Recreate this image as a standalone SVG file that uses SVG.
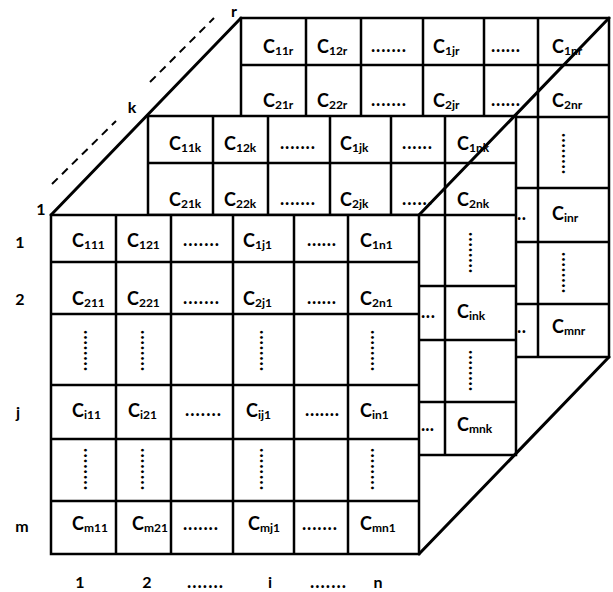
<svg xmlns="http://www.w3.org/2000/svg" xmlns:xlink="http://www.w3.org/1999/xlink" width="613" height="592" viewBox="0 0 613 592">
<style>
.ln{stroke:#000;stroke-width:2.5;fill:none}
.bg{fill:#fff;stroke:none}
.dg{stroke:#000;stroke-width:3;fill:none;stroke-linecap:round}
.ds{stroke:#000;stroke-width:2;fill:none;stroke-dasharray:8 6}
text{font-family:Lato,"Liberation Sans",sans-serif;font-weight:bold;fill:#000}
.c{font-size:18px}
.s{font-size:12px}
.d{font-size:18px}
.lbl{font-size:16px;text-anchor:middle}
</style>
<defs>
<g id="grid">
<rect class="bg" x="0" y="0" width="368" height="339"/>
<path class="ln" d="M0,0H368V339H0Z M65,0V339 M120,0V339 M182,0V339 M243,0V339 M297,0V339 M0,47H368 M0,99H368 M0,170H368 M0,224H368 M0,286H368"/>
</g>
</defs>

<g id="layer-r">
<use xlink:href="#grid" href="#grid" transform="translate(241,18)"/>
<text class="c" x="263" y="53">C<tspan class="s" dy="1.5">11r</tspan></text>
<text class="c" x="317" y="53">C<tspan class="s" dy="1.5">12r</tspan></text>
<text class="d" x="371" y="52" textLength="35" lengthAdjust="spacing">.......</text>
<text class="c" x="433" y="53">C<tspan class="s" dy="1.5">1jr</tspan></text>
<text class="d" x="491" y="52" textLength="29" lengthAdjust="spacing">......</text>
<text class="c" x="552" y="53">C<tspan class="s" dy="1.5">1nr</tspan></text>
<text class="c" x="263" y="107">C<tspan class="s" dy="1.5">21r</tspan></text>
<text class="c" x="317" y="107">C<tspan class="s" dy="1.5">22r</tspan></text>
<text class="d" x="371" y="106" textLength="35" lengthAdjust="spacing">.......</text>
<text class="c" x="433" y="107">C<tspan class="s" dy="1.5">2jr</tspan></text>
<text class="d" x="491" y="106" textLength="29" lengthAdjust="spacing">......</text>
<text class="c" x="552" y="107">C<tspan class="s" dy="1.5">2nr</tspan></text>
<text class="d" transform="translate(562,133) rotate(90)" x="0" y="0" textLength="41" lengthAdjust="spacing">........</text>
<text class="c" x="552" y="220">C<tspan class="s" dy="1.5">inr</tspan></text>
<text class="d" transform="translate(562,252) rotate(90)" x="0" y="0" textLength="41" lengthAdjust="spacing">........</text>
<text class="c" x="552" y="333">C<tspan class="s" dy="1.5">mnr</tspan></text>
<text class="d" x="517" y="220" textLength="9" lengthAdjust="spacing">..</text>
<text class="d" x="517" y="333" textLength="9" lengthAdjust="spacing">..</text>
</g>

<g id="layer-k">
<use xlink:href="#grid" href="#grid" transform="translate(148,116)"/>
<text class="c" x="169" y="150">C<tspan class="s" dy="1.5">11k</tspan></text>
<text class="c" x="224" y="150">C<tspan class="s" dy="1.5">12k</tspan></text>
<text class="d" x="280" y="149" textLength="35" lengthAdjust="spacing">.......</text>
<text class="c" x="340" y="150">C<tspan class="s" dy="1.5">1jk</tspan></text>
<text class="d" x="402" y="149" textLength="30" lengthAdjust="spacing">......</text>
<text class="c" x="457" y="150">C<tspan class="s" dy="1.5">1nk</tspan></text>
<text class="c" x="169" y="206">C<tspan class="s" dy="1.5">21k</tspan></text>
<text class="c" x="224" y="206">C<tspan class="s" dy="1.5">22k</tspan></text>
<text class="d" x="280" y="205" textLength="35" lengthAdjust="spacing">.......</text>
<text class="c" x="340" y="206">C<tspan class="s" dy="1.5">2jk</tspan></text>
<text class="d" x="402" y="205" textLength="30" lengthAdjust="spacing">......</text>
<text class="c" x="457" y="206">C<tspan class="s" dy="1.5">2nk</tspan></text>
<text class="d" transform="translate(469,232) rotate(90)" x="0" y="0" textLength="41" lengthAdjust="spacing">........</text>
<text class="c" x="457" y="318">C<tspan class="s" dy="1.5">ink</tspan></text>
<text class="d" x="421" y="318" textLength="14" lengthAdjust="spacing">...</text>
<text class="d" transform="translate(469,350) rotate(90)" x="0" y="0" textLength="41" lengthAdjust="spacing">........</text>
<text class="c" x="457" y="431">C<tspan class="s" dy="1.5">mnk</tspan></text>
<text class="d" x="421" y="431" textLength="13" lengthAdjust="spacing">...</text>
</g>

<g id="layer-1">
<use xlink:href="#grid" href="#grid" transform="translate(51,215)"/>
<text class="c" x="72" y="247">C<tspan class="s" dy="1.5">111</tspan></text>
<text class="c" x="127" y="247">C<tspan class="s" dy="1.5">121</tspan></text>
<text class="d" x="183" y="246" textLength="36" lengthAdjust="spacing">.......</text>
<text class="c" x="243" y="247">C<tspan class="s" dy="1.5">1j1</tspan></text>
<text class="d" x="307" y="246" textLength="29" lengthAdjust="spacing">......</text>
<text class="c" x="360" y="247">C<tspan class="s" dy="1.5">1n1</tspan></text>
<text class="c" x="72" y="305">C<tspan class="s" dy="1.5">211</tspan></text>
<text class="c" x="127" y="305">C<tspan class="s" dy="1.5">221</tspan></text>
<text class="d" x="183" y="304" textLength="36" lengthAdjust="spacing">.......</text>
<text class="c" x="243" y="305">C<tspan class="s" dy="1.5">2j1</tspan></text>
<text class="d" x="307" y="304" textLength="29" lengthAdjust="spacing">......</text>
<text class="c" x="360" y="305">C<tspan class="s" dy="1.5">2n1</tspan></text>
<text class="d" transform="translate(84,330) rotate(90)" x="0" y="0" textLength="41" lengthAdjust="spacing">........</text>
<text class="d" transform="translate(141,330) rotate(90)" x="0" y="0" textLength="41" lengthAdjust="spacing">........</text>
<text class="d" transform="translate(260,330) rotate(90)" x="0" y="0" textLength="41" lengthAdjust="spacing">........</text>
<text class="d" transform="translate(371,330) rotate(90)" x="0" y="0" textLength="41" lengthAdjust="spacing">........</text>
<text class="c" x="72" y="417">C<tspan class="s" dy="1.5">i11</tspan></text>
<text class="c" x="128" y="417">C<tspan class="s" dy="1.5">i21</tspan></text>
<text class="d" x="185" y="416" textLength="36" lengthAdjust="spacing">.......</text>
<text class="c" x="246" y="417">C<tspan class="s" dy="1.5">ij1</tspan></text>
<text class="d" x="305" y="416" textLength="34" lengthAdjust="spacing">.......</text>
<text class="c" x="360" y="417">C<tspan class="s" dy="1.5">in1</tspan></text>
<text class="d" transform="translate(84,448) rotate(90)" x="0" y="0" textLength="42" lengthAdjust="spacing">........</text>
<text class="d" transform="translate(141,448) rotate(90)" x="0" y="0" textLength="42" lengthAdjust="spacing">........</text>
<text class="d" transform="translate(260,448) rotate(90)" x="0" y="0" textLength="42" lengthAdjust="spacing">........</text>
<text class="d" transform="translate(371,448) rotate(90)" x="0" y="0" textLength="42" lengthAdjust="spacing">........</text>
<text class="c" x="72" y="530">C<tspan class="s" dy="1.5">m11</tspan></text>
<text class="c" x="132" y="530">C<tspan class="s" dy="1.5">m21</tspan></text>
<text class="d" x="183" y="530" textLength="35" lengthAdjust="spacing">.......</text>
<text class="c" x="248" y="530">C<tspan class="s" dy="1.5">mj1</tspan></text>
<text class="d" x="302" y="530" textLength="35" lengthAdjust="spacing">.......</text>
<text class="c" x="360" y="530">C<tspan class="s" dy="1.5">mn1</tspan></text>
</g>

<g id="connectors">
<line class="dg" x1="51" y1="215" x2="241" y2="18"/>
<line class="dg" x1="419" y1="215" x2="609" y2="18"/>
<line class="dg" x1="419" y1="554" x2="609" y2="357"/>
<line class="ds" x1="52" y1="184" x2="116" y2="121"/>
<line class="ds" x1="150" y1="82" x2="214" y2="18"/>
</g>

<g id="labels">
<text class="lbl" x="234" y="17">r</text>
<text class="lbl" x="132" y="113">k</text>
<text class="lbl" x="41" y="215">1</text>
<text class="lbl" x="20" y="248">1</text>
<text class="lbl" x="20" y="305">2</text>
<text class="lbl" x="18" y="418">j</text>
<text class="lbl" x="22" y="532">m</text>
<text class="lbl" x="80" y="588">1</text>
<text class="lbl" x="147" y="588">2</text>
<text class="d" x="187" y="588" textLength="36" lengthAdjust="spacing">.......</text>
<text class="lbl" x="270" y="588">i</text>
<text class="d" x="310" y="588" textLength="36" lengthAdjust="spacing">.......</text>
<text class="lbl" x="378" y="588">n</text>
</g>
</svg>
